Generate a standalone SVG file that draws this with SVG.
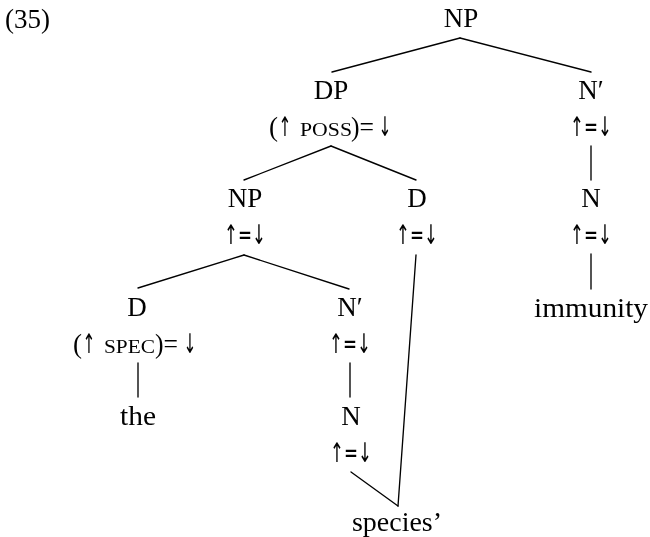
<svg xmlns="http://www.w3.org/2000/svg" width="650" height="537" viewBox="0 0 650 537">
  <style>
    text { font-family: "Liberation Serif", "Times New Roman", serif; font-size: 27px; fill: #000; text-anchor: middle; }
    .num, .s { text-anchor: start; }
    .sc { font-variant: small-caps; }
    .ar { font-family: "DejaVu Sans", sans-serif; }
    .edges line { stroke: #000; stroke-width: 1.35; stroke-linecap: round; }
    .layer { opacity: 0.999; will-change: transform; }
  </style>
  <rect width="650" height="537" fill="#fff"/>

  <g class="layer">
  <text class="num" x="5" y="28">(35)</text>

  <!-- tree edges -->
  <g class="edges">
    <line x1="460" y1="38" x2="332" y2="72"/>
    <line x1="460" y1="38" x2="591" y2="72"/>
    <line x1="331" y1="146" x2="244" y2="180"/>
    <line x1="331" y1="146" x2="416" y2="180"/>
    <line x1="591" y1="146" x2="591" y2="180"/>
    <line x1="244" y1="255" x2="138" y2="288"/>
    <line x1="244" y1="255" x2="349" y2="289"/>
    <line x1="416" y1="255" x2="398" y2="506"/>
    <line x1="591" y1="254" x2="591" y2="289"/>
    <line x1="138" y1="363" x2="138" y2="397"/>
    <line x1="350" y1="363" x2="350" y2="397"/>
    <line x1="351" y1="472" x2="398" y2="506"/>
  </g>

  <g id="np-root"><text x="461" y="27">NP</text></g>
  <g id="dp">
    <text x="331" y="99">DP</text>
    <text class="s" x="269" y="136">(</text>
    <text class="ar" x="285" y="136" textLength="13" lengthAdjust="spacingAndGlyphs">↑</text>
    <text class="sc s" x="300" y="136" textLength="52" lengthAdjust="spacingAndGlyphs">poss</text>
    <text class="s" x="351" y="136" textLength="23" lengthAdjust="spacingAndGlyphs">)=</text>
    <text class="ar" x="385" y="136" textLength="13" lengthAdjust="spacingAndGlyphs">↓</text>
  </g>
  <g id="nbar-top"><text x="591" y="99">N′</text><text class="ar" x="591" y="136" textLength="42" lengthAdjust="spacingAndGlyphs">↑=↓</text></g>
  <g id="np-inner"><text x="245" y="207">NP</text><text class="ar" x="245" y="244" textLength="42" lengthAdjust="spacingAndGlyphs">↑=↓</text></g>
  <g id="d-poss"><text x="417" y="207">D</text><text class="ar" x="417" y="244" textLength="42" lengthAdjust="spacingAndGlyphs">↑=↓</text></g>
  <g id="n-top"><text x="591" y="207">N</text><text class="ar" x="591" y="244" textLength="42" lengthAdjust="spacingAndGlyphs">↑=↓</text></g>
  <g id="immunity"><text x="591" y="317" textLength="114" lengthAdjust="spacingAndGlyphs">immunity</text></g>
  <g id="d-spec">
    <text x="137" y="316">D</text>
    <text class="s" x="73" y="353">(</text>
    <text class="ar" x="89" y="353" textLength="13" lengthAdjust="spacingAndGlyphs">↑</text>
    <text class="sc s" x="104" y="353" textLength="51" lengthAdjust="spacingAndGlyphs">spec</text>
    <text class="s" x="155" y="353" textLength="23" lengthAdjust="spacingAndGlyphs">)=</text>
    <text class="ar" x="190" y="353" textLength="13" lengthAdjust="spacingAndGlyphs">↓</text>
  </g>
  <g id="nbar-inner"><text x="350" y="316">N′</text><text class="ar" x="350" y="353" textLength="42" lengthAdjust="spacingAndGlyphs">↑=↓</text></g>
  <g id="the"><text x="138" y="425" textLength="36" lengthAdjust="spacingAndGlyphs">the</text></g>
  <g id="n-inner"><text x="351" y="425">N</text><text class="ar" x="351" y="462" textLength="42" lengthAdjust="spacingAndGlyphs">↑=↓</text></g>
  <g id="species"><text x="397" y="531" textLength="90" lengthAdjust="spacingAndGlyphs">species’</text></g>
  </g>
</svg>
